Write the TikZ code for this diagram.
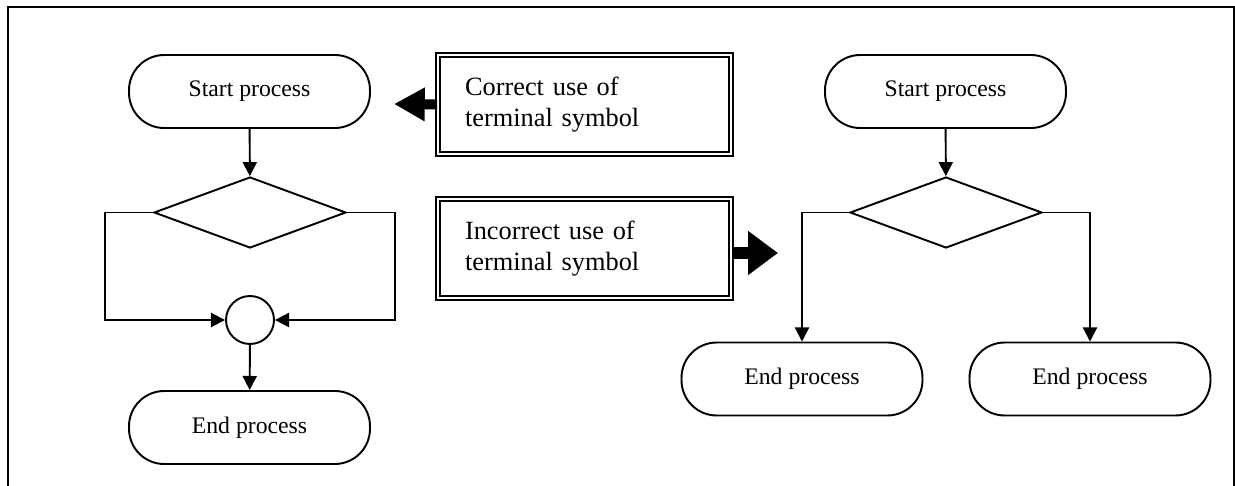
\documentclass[tikz,border=0pt]{standalone}
\usepackage{fontspec}
\setmainfont{Liberation Serif}
\usetikzlibrary{shapes.geometric,arrows.meta}
\begin{document}
\begin{tikzpicture}[x=0.02cm,y=-0.02cm,
  every path/.style={line width=1.1pt},
  term/.style={draw,rounded corners=20pt,minimum width=4.82cm,minimum height=1.46cm,inner sep=0pt,font=\fontsize{13.5}{16}\selectfont},
  dec/.style={draw,diamond,minimum width=3.84cm,minimum height=1.42cm,inner sep=0pt},
  conn/.style={draw,circle,minimum size=0.96cm,inner sep=0pt},
  callout/.style={draw,double,line width=1.1pt,double distance=1.2pt,minimum width=5.86cm,minimum height=1.98cm,
     text width=4.78cm,inner xsep=0.54cm,inner ysep=0pt,align=left,font=\fontsize{15}{17.2}\selectfont},
  flow/.style={-{Triangle[length=8pt,width=8pt]}},
]
\useasboundingbox (0,0) rectangle (1235,486);
% frame
\draw (8,486) -- (8,7) -- (1234,7) -- (1234,486);

% left flowchart
\node[term] (s1) at (249.5,91.5) {Start process};
\node[dec] (d1) at (250,212.5) {};
\node[conn] (c1) at (250,320) {};
\node[term] (e1) at (249.5,427.5) {End process};
\draw[flow] (s1) -- (d1);
\draw[flow] (d1.west) -- ++(-48,0) |- (c1);
\draw[flow] (d1.east) -- ++(48,0) |- (c1);
\draw[flow] (c1) -- (e1);

% callouts
\node[callout] (b1) at (584.5,104.5) {Correct use of\\terminal symbol};
\node[callout] (b2) at (584.5,248.5) {Incorrect use of\\terminal symbol};
\coordinate (t1) at (394,104);
\coordinate (t2) at (778,253);
\draw[line width=5.7pt,-{Triangle[length=17.5pt,width=18pt]}] (b1.west) -- (t1);
\draw[line width=6.5pt,-{Triangle[length=17pt,width=24pt]}] (t2 -| b2.east) -- (t2);

% right flowchart
\node[term] (s2) at (945.5,91.5) {Start process};
\node[dec] (d2) at (946,212.5) {};
\node[term] (e2) at (802,379) {End process};
\node[term] (e3) at (1090,379) {End process};
\draw[flow] (s2) -- (d2);
\draw[flow] (d2.west) -| (e2);
\draw[flow] (d2.east) -| (e3);
\end{tikzpicture}
\end{document}
